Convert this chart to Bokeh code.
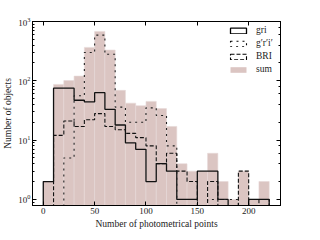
import numpy as np
from bokeh.plotting import figure
from bokeh.models import (ColumnDataSource, LinearAxis, LogAxis, Legend, LegendItem,
                          Range1d, FixedTicker, CustomJSTickFormatter)
from bokeh.embed import file_html
from bokeh.resources import INLINE

# ---- data ----
bin_edges = list(range(0, 230, 10))
gri  = [2, 75, 75, 47, 44, 63, 33, 18, 9, 7, 2, 4, 3, 1, 1, 3, 3, 1, 0, 0, 1, 1]
gpri = [0, 0, 5, 56, 300, 590, 280, 36, 20, 20, 35, 26, 8, 0, 0, 0, 1, 1, 1, 0, 0, 0]
bri  = [0, 12, 21, 17, 22, 28, 17, 15, 13, 11, 8, 4, 6, 3, 2, 0, 2, 0, 0, 3, 0, 1]
total = [a + b + c for a, b, c in zip(gri, gpri, bri)]
x_ticks = [0, 50, 100, 150, 200]

FLOOR = 1e-2
FONT = "Liberation Serif"
NAN = float("nan")
FILL = "#dbc5c2"

def step_outline(edges, counts):
    xs, ys = [edges[0]], [FLOOR]
    for i, c in enumerate(counts):
        v = c if c > 0 else FLOOR
        xs += [edges[i], edges[i + 1]]
        ys += [v, v]
    xs.append(edges[-1]); ys.append(FLOOR)
    return xs, ys

p = figure(width=304, height=231, y_axis_type="log",
           x_range=Range1d(-10.5, 231), y_range=Range1d(0.79, 1000),
           output_backend="svg", toolbar_location=None,
           min_border_left=32, min_border_right=24, min_border_top=21, min_border_bottom=26)
p.grid.visible = False
p.outline_line_color = "black"
p.outline_line_width = 1
p.background_fill_color = "white"
p.border_fill_color = "white"

# filled sum histogram
src = ColumnDataSource(dict(left=bin_edges[:-1], right=bin_edges[1:], top=total,
                            bottom=[FLOOR] * len(total)))
p.quad(left="left", right="right", top="top", bottom="bottom", source=src,
       fill_color=FILL, line_color="#e6d8d6", line_width=0.6)

styles = [(gri, "solid", "#111111", 1.3), (gpri, "dotted", "#222222", 1.1), (bri, "4 2", "#111111", 1.1)]
for counts, dash, col, w in styles:
    xs, ys = step_outline(bin_edges, counts)
    p.line(xs, ys, line_color=col, line_dash=dash, line_width=w)

# legend proxies (NaN geometry, only used for the legend glyphs)
nan_src = lambda: ColumnDataSource(dict(left=[NAN], right=[NAN], top=[NAN], bottom=[NAN]))
proxies = []
for dash, w in [("solid", 1.3), ("dotted", 1.1), ("4 2", 1.1)]:
    proxies.append(p.quad(left="left", right="right", top="top", bottom="bottom",
                          source=nan_src(), fill_color=None,
                          line_color="black", line_dash=dash, line_width=w))
sum_proxy = p.quad(left="left", right="right", top="top", bottom="bottom",
                   source=nan_src(), fill_color=FILL, line_color=None)

legend = Legend(items=[LegendItem(label="gri", renderers=[proxies[0]]),
                       LegendItem(label="g\u2032r\u2032i\u2032", renderers=[proxies[1]]),
                       LegendItem(label="BRI", renderers=[proxies[2]]),
                       LegendItem(label="sum", renderers=[sum_proxy])],
                location="top_right")
legend.background_fill_alpha = 0
legend.border_line_color = None
legend.label_text_font = FONT
legend.label_text_font_size = "9.5px"
legend.label_text_color = "#222222"
legend.glyph_width = 20
legend.glyph_height = 7
legend.label_height = 9
legend.spacing = 3
legend.padding = 3
legend.margin = 4
legend.label_standoff = 8
p.add_layout(legend)

def style_axis(ax, minor=True):
    ax.axis_line_color = "black"
    ax.major_tick_in = 4
    ax.major_tick_out = 0
    ax.minor_tick_in = 2 if minor else 0
    ax.minor_tick_out = 0
    if not minor:
        ax.minor_tick_line_color = None
    ax.major_label_text_font = FONT
    ax.major_label_text_font_size = "9px"
    ax.major_label_text_color = "#222222"
    ax.axis_label_text_font = FONT
    ax.axis_label_text_font_size = "9.5px"
    ax.axis_label_text_font_style = "normal"
    ax.axis_label_text_color = "#222222"
    ax.major_label_standoff = 2
    ax.axis_label_standoff = 2

xa = p.xaxis[0]
xa.ticker = FixedTicker(ticks=x_ticks)
xa.axis_label = "Number of photometrical points"
style_axis(xa, minor=False)

ya = p.yaxis[0]
ya.axis_label = "Number of objects"
style_axis(ya)

blank = CustomJSTickFormatter(code="return ''")
top = LinearAxis(ticker=FixedTicker(ticks=x_ticks), formatter=blank)
style_axis(top, minor=False)
top.major_label_standoff = 0
p.add_layout(top, "above")

right = LogAxis(formatter=blank)
style_axis(right)
right.major_label_standoff = 0
p.add_layout(right, "right")

open("out.html", "w").write(file_html(p, INLINE))
